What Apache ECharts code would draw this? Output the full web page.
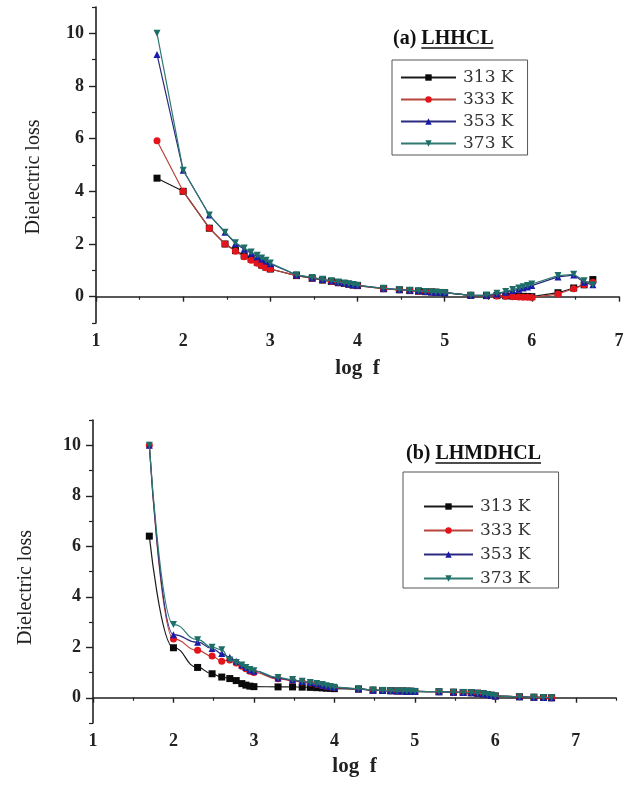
<!DOCTYPE html>
<html>
<head>
<meta charset="utf-8">
<script src="https://cdn.jsdelivr.net/npm/echarts@6/dist/echarts.min.js"></script>
<style>
html,body{margin:0;padding:0;background:#fff;}
#c{width:630px;height:789px;}
</style>
</head>
<body>
<div id="c"></div>
<script>
// ---- data ----
const logF = [1.7,2,2.3,2.48,2.6,2.7,2.78,2.85,2.9,2.95,3,3.3,3.48,3.6,3.7,3.78,3.85,3.9,3.95,4,4.3,4.48,4.6,4.7,4.78,4.85,4.9,4.95,5,5.3,5.48,5.6,5.7,5.78,5.85,5.9,5.95,6,6.3,6.48,6.6,6.7];
const seriesNames = ['313 K','333 K','353 K','373 K'];
const titleA = ['(a) ','LHHCL'];
const titleB = ['(b) ','LHMDHCL'];
const xTicks = [1,2,3,4,5,6,7];
const yTicks = [0,2,4,6,8,10];

const a313 = [4.5,4.0,2.6,2.0,1.75,1.55,1.42,1.3,1.2,1.12,1.05,0.8,0.7,0.63,0.58,0.53,0.5,0.47,0.44,0.42,0.3,0.26,0.23,0.21,0.19,0.18,0.17,0.16,0.15,0.05,0.04,0.04,0.03,0.02,0.02,0.01,0.01,0.0,0.15,0.33,0.45,0.65];
const a333 = [5.92,4.0,2.6,2.0,1.72,1.52,1.38,1.27,1.17,1.1,1.05,0.8,0.7,0.63,0.58,0.53,0.5,0.47,0.44,0.42,0.3,0.26,0.23,0.21,0.19,0.18,0.17,0.16,0.15,0.05,0.04,0.03,0.02,0.0,-0.01,-0.02,-0.02,-0.03,0.1,0.3,0.45,0.55];
const a353 = [9.2,4.8,3.1,2.45,2.02,1.8,1.65,1.52,1.43,1.35,1.25,0.82,0.72,0.65,0.6,0.55,0.52,0.48,0.45,0.43,0.32,0.27,0.24,0.22,0.2,0.18,0.17,0.16,0.15,0.05,0.05,0.1,0.17,0.23,0.28,0.33,0.37,0.42,0.75,0.82,0.55,0.45];
const a373 = [10.0,4.8,3.1,2.45,2.05,1.85,1.7,1.57,1.47,1.38,1.28,0.83,0.73,0.66,0.6,0.56,0.52,0.49,0.46,0.43,0.32,0.27,0.24,0.22,0.2,0.18,0.17,0.16,0.15,0.05,0.06,0.13,0.2,0.27,0.33,0.38,0.42,0.48,0.8,0.85,0.6,0.45];

const b313 = [6.4,1.98,1.2,0.95,0.82,0.76,0.68,0.56,0.5,0.46,0.44,0.43,0.43,0.42,0.41,0.4,0.39,0.38,0.37,0.36,0.34,0.3,0.29,0.28,0.27,0.27,0.26,0.26,0.25,0.24,0.22,0.21,0.2,0.18,0.16,0.13,0.1,0.07,0.04,0.02,0.01,0.0];
const b333 = [10.0,2.33,1.88,1.65,1.45,1.5,1.38,1.25,1.15,1.05,1.0,0.75,0.68,0.62,0.58,0.53,0.49,0.46,0.43,0.4,0.35,0.3,0.29,0.28,0.27,0.27,0.26,0.26,0.25,0.24,0.22,0.21,0.2,0.18,0.16,0.13,0.1,0.07,0.04,0.02,0.01,0.0];
const b353 = [10.0,2.5,2.2,1.95,1.75,1.6,1.45,1.3,1.2,1.1,1.05,0.78,0.7,0.64,0.6,0.55,0.5,0.47,0.44,0.41,0.36,0.3,0.29,0.28,0.27,0.27,0.26,0.26,0.25,0.24,0.22,0.21,0.2,0.18,0.16,0.13,0.1,0.07,0.04,0.02,0.01,0.0];
const b373 = [10.0,2.9,2.3,2.0,1.9,1.5,1.4,1.3,1.2,1.12,1.07,0.8,0.72,0.65,0.6,0.56,0.52,0.48,0.45,0.42,0.36,0.31,0.29,0.28,0.27,0.27,0.26,0.26,0.25,0.24,0.22,0.21,0.2,0.18,0.16,0.13,0.1,0.07,0.04,0.02,0.01,0.0];

// ---- styling ----
const markerColors = ['#0a0a0a','#e3141c','#1a1aa8','#1d6e68'];
const lineColors = ['#1a1a1a','#b8453c','#2a2a80','#2e7a70'];
const symbols = ['rect','circle','triangle','path://M0,0 L10,0 L5,9 Z'];
const serif = '"Liberation Serif", "Times New Roman", serif';

const chart = echarts.init(document.getElementById('c'), null, {renderer:'canvas'});

function pairs(ys){ return logF.map((x,i)=>[x, ys[i]]); }

function mkSeries(data, gi, smooth){
  return data.map((ys,k)=>({
    name: seriesNames[k], type:'line',
    xAxisIndex: gi*2, yAxisIndex: gi*2,
    data: pairs(ys),
    symbol: symbols[k], symbolSize: 7,
    smooth: smooth, smoothMonotone: smooth ? 'x' : undefined,
    itemStyle:{color: markerColors[k]},
    lineStyle:{color: lineColors[k], width: 1.2},
    z: 2 + k
  }));
}

function xAxes(gi, max){
  const minor = [];
  for (let v=1.5; v<=max+1e-9; v+=1) minor.push(v);
  return [
    {gridIndex:gi, type:'value', position:'bottom', min:1, max:max, interval:1,
     name:'log  f', nameLocation:'middle', nameGap: gi===0?35:33,
     nameTextStyle:{fontFamily:serif, fontWeight:'bold', fontSize:21, color:'#222'},
     axisLine:{lineStyle:{color:'#222', width:1.6}},
     axisTick:{customValues:xTicks, length:5, lineStyle:{color:'#222', width:1.4}},
     axisLabel:{customValues:xTicks, margin:9, fontFamily:serif, fontWeight:'bold', fontSize:18, color:'#222'},
     splitLine:{show:false}},
    {gridIndex:gi, type:'value', position:'bottom', offset:0, min:1, max:max, interval:1,
     axisLine:{show:false},
     axisTick:{customValues:minor, length:3, lineStyle:{color:'#222', width:1.2}},
     axisLabel:{show:false}, splitLine:{show:false}}
  ];
}
function yAxes(gi){
  return [
    {gridIndex:gi, type:'value', position:'left', min:-1, max:11, interval:1,
     name:'Dielectric loss', nameLocation:'middle', nameGap: gi===0?52:57,
     nameTextStyle:{fontFamily:serif, fontSize:20, color:'#222', padding: gi===0?[0,24,0,0]:[0,32,0,0]},
     axisLine:{lineStyle:{color:'#222', width:1.6}},
     axisTick:{customValues:yTicks, length:7, lineStyle:{color:'#222', width:1.4}},
     axisLabel:{customValues:yTicks, margin:12, fontFamily:serif, fontWeight:'bold', fontSize:18, color:'#222'},
     splitLine:{show:false}},
    {gridIndex:gi, type:'value', position:'left', offset:0, min:-1, max:11, interval:1,
     axisLine:{show:false},
     axisTick:{customValues:[-1,1,3,5,7,9,11], length:4, lineStyle:{color:'#222', width:1.2}},
     axisLabel:{show:false}, splitLine:{show:false}}
  ];
}

function legendCfg(left, top, padding, itemWidth, gap){
  return {
    left:left, top:top, orient:'vertical', data: seriesNames,
    backgroundColor:'#fff', borderColor:'#555', borderWidth:1,
    padding: padding, itemWidth: itemWidth, itemHeight:8, itemGap: gap,
    textStyle:{fontFamily:'"DejaVu Serif", serif', fontSize:17, lineHeight:17, color:'#333', padding:[0,0,0,2]},
    selectedMode:false
  };
}

// title graphics with underline
const ctx = document.createElement('canvas').getContext('2d');
function titleGraphic(parts, x, y){
  const font = 'bold 20px ' + serif;
  ctx.font = font;
  const w0 = ctx.measureText(parts[0]).width;
  const w1 = ctx.measureText(parts[1]).width;
  return [
    {type:'text', left:x, top:y-11, style:{text:parts[0]+parts[1], font:font, fill:'#111'}},
    {type:'line', shape:{x1:x+w0, y1:y+8, x2:x+w0+w1, y2:y+8}, style:{stroke:'#111', lineWidth:1.3}}
  ];
}

const option = {
  animation:false,
  backgroundColor:'#fff',
  grid:[
    {left:96, top:7, width:523, height:316},
    {left:93, top:420, width:523, height:303}
  ],
  xAxis: xAxes(0,7).concat(xAxes(1,7.5)),
  yAxis: yAxes(0).concat(yAxes(1)),
  legend:[
    legendCfg(392, 60, [9,14,3,8], 55, 5),
    legendCfg(403, 472, [26,28,1,20], 49, 7)
  ],
  graphic: titleGraphic(titleA, 393, 40).concat(titleGraphic(titleB, 406, 455)),
  series: mkSeries([a313,a333,a353,a373], 0, false).concat(mkSeries([b313,b333,b353,b373], 1, 0.5))
};
chart.setOption(option);
</script>
</body>
</html>
